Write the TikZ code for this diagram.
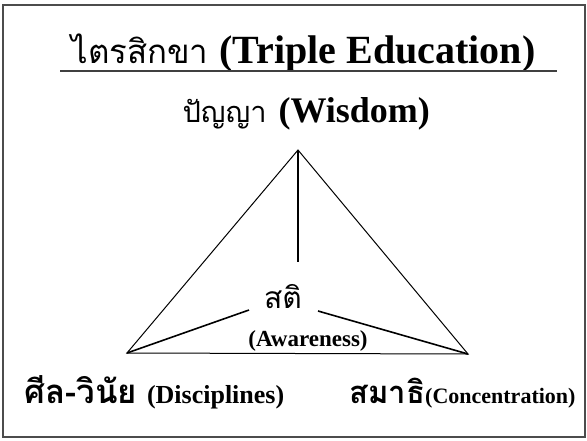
\documentclass[tikz,border=0pt]{standalone}
\usepackage{fontspec}
\setmainfont{Liberation Serif}
\newfontfamily\thaifont[Script=Thai]{Loma}
\usetikzlibrary{calc,positioning}

\begin{document}
\begin{tikzpicture}[x=1pt,y=-1pt,line width=1pt]
  \tikzstyle{lbl}=[inner sep=0pt,anchor=base]
  \useasboundingbox (0,0) rectangle (587,440);
  \draw[line width=1.6pt,black!70] (3,5) rectangle (585,437);

  \node[lbl,anchor=base west] (title) at (71,63) {{\thaifont\fontsize{33}{37}\selectfont ไตรสิกขา}\hspace{11pt}{\fontsize{40}{44}\selectfont\bfseries (Triple Education)}};
  \draw[line width=2.4pt,black!75] (60,71) -- (557,71);
  \node[lbl,anchor=base west] (wisdom) at (182,122) {{\thaifont\fontsize{29}{33}\selectfont ปัญญา}\hspace{12pt}{\fontsize{36}{40}\selectfont\bfseries (Wisdom)}};

  \coordinate (a) at (298,150);
  \coordinate (l) at (127,353);
  \coordinate (r) at (468,354);
  \draw (a) -- (l) -- (r) -- cycle;

  \node[lbl] (sati) at (283,308) {\thaifont\fontsize{30}{34}\selectfont สติ};
  \node[lbl] (aware) at (308,346) {\fontsize{23}{26}\selectfont\bfseries (Awareness)};
  \coordinate (c) at (298,262);
  \coordinate (cl) at (249,310);
  \coordinate (cr) at (318,311);
  \draw[line width=1.8pt] (a) -- (c);
  \draw[line width=1.6pt] (l) -- (cl);
  \draw[line width=1.6pt] (r) -- (cr);

  \node[lbl,anchor=base west] (sila) at (24,403) {{\thaifont\fontsize{33}{36}\selectfont\bfseries ศีล-วินัย}\hspace{10pt}{\fontsize{26}{30}\selectfont\bfseries (Disciplines)}};
  \node[lbl,anchor=base east] (samadhi) at (576,403) {{\thaifont\fontsize{31}{35}\selectfont\bfseries สมาธิ}{\fontsize{22}{26}\selectfont\bfseries (Concentration)}};
\end{tikzpicture}
\end{document}
